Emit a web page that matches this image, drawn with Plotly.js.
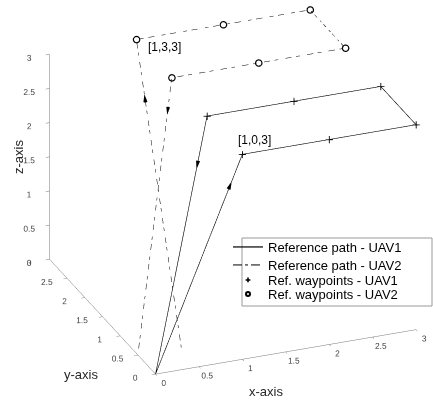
<!DOCTYPE html>
<html>
<head>
<meta charset="utf-8">
<script src="https://cdn.plot.ly/plotly-3.0.1.min.js"></script>
<style>html,body{margin:0;padding:0;background:#fff;}#plot{width:433px;height:403px;}</style>
</head>
<body>
<div id="plot"></div>
<script>
// ---- data ----
const uav1PathX = [0, 1, 2, 3, 3, 2, 1, 0];
const uav1PathY = [0, 0, 0, 0, 1, 1, 1, 0];
const uav1PathZ = [0, 3, 3, 3, 3, 3, 3, 0];
const uav2PathX = [0.5, 1, 2, 3, 3, 2, 1, 0];
const uav2PathY = [0.5, 3, 3, 3, 2, 2, 2, 0.5];
const uav2PathZ = [0, 3, 3, 3, 3, 3, 3, 0];
const uav1WpX = [1, 2, 3, 3, 2, 1];
const uav1WpY = [0, 0, 0, 1, 1, 1];
const uav1WpZ = [3, 3, 3, 3, 3, 3];
const uav2WpX = [1, 2, 3, 3, 2, 1];
const uav2WpY = [3, 3, 3, 2, 2, 2];
const uav2WpZ = [3, 3, 3, 3, 3, 3];
const tickVals = [0, 0.5, 1, 1.5, 2, 2.5, 3];
const tickText = ['0', '0.5', '1', '1.5', '2', '2.5', '3'];
const seriesNames = ['Reference path - UAV1', 'Reference path - UAV2', 'Ref. waypoints - UAV1', 'Ref. waypoints - UAV2'];
// arrows: fraction along the first (climb) and last (descent) leg of each path
const arrowFracUp = [0.86, 0.81];
const arrowFracDown = [0.19, 0.12];

function arrowCone(px, py, pz, fUp, fDown) {
  const n = px.length;
  const legs = [[0, 1, fUp], [n - 2, n - 1, fDown]];
  const c = {x: [], y: [], z: [], u: [], v: [], w: []};
  legs.forEach(([a, b, f]) => {
    c.x.push(px[a] + f * (px[b] - px[a]));
    c.y.push(py[a] + f * (py[b] - py[a]));
    c.z.push(pz[a] + f * (pz[b] - pz[a]));
    const dx = px[b] - px[a], dy = py[b] - py[a], dz = pz[b] - pz[a];
    const L = Math.sqrt(dx * dx + dy * dy + dz * dz);
    c.u.push(dx / L); c.v.push(dy / L); c.w.push(dz / L);
  });
  return c;
}

const FONT = 'Liberation Sans, Arial, sans-serif';
const traces = [];
traces.push({type: 'scatter3d', mode: 'lines', name: seriesNames[0], x: uav1PathX, y: uav1PathY, z: uav1PathZ,
  line: {color: '#000', width: 1.2}, legend: 'legend', hoverinfo: 'skip'});
traces.push({type: 'scatter3d', mode: 'lines', name: seriesNames[1], x: uav2PathX, y: uav2PathY, z: uav2PathZ,
  line: {color: '#000', width: 1, dash: 'dashdot'}, legend: 'legend2', hoverinfo: 'skip'});
traces.push({type: 'scatter3d', mode: 'markers', name: seriesNames[2], x: uav1WpX, y: uav1WpY, z: uav1WpZ,
  marker: {color: '#000', size: 4, symbol: 'cross'}, legend: 'legend3', hoverinfo: 'skip'});
traces.push({type: 'scatter3d', mode: 'markers', name: seriesNames[3], x: uav2WpX, y: uav2WpY, z: uav2WpZ,
  marker: {color: '#000', size: 4, symbol: 'circle-open', line: {width: 2, color: '#000'}}, legend: 'legend4', hoverinfo: 'skip'});
const cones = [
  arrowCone(uav1PathX, uav1PathY, uav1PathZ, arrowFracUp[0], arrowFracDown[0]),
  arrowCone(uav2PathX, uav2PathY, uav2PathZ, arrowFracUp[1], arrowFracDown[1])
].map(c =>
  Object.assign({type: 'cone', anchor: 'center', sizemode: 'absolute', sizeref: 0.13,
    colorscale: [[0, 'rgb(0,0,0)'], [1, 'rgb(0,0,0)']], showscale: false, showlegend: false, hoverinfo: 'skip',
    lighting: {ambient: 1, diffuse: 0, specular: 0}}, c));

const axisBase = {
  range: [0, 3], tickvals: tickVals, ticktext: tickText, showgrid: false, zeroline: false,
  showbackground: false, showline: true, linecolor: '#777', linewidth: 1, ticks: 'outside',
  ticklen: 4, tickcolor: '#777', tickfont: {family: FONT, size: 10, color: '#444'}, tickangle: 0,
  title: {text: ''}, showspikes: false, autorange: false
};
const ex = -0.333, ey = -0.839, ez = 0.430, R = 4;
const Z = 1.391;
const cen = {x: -0.087, y: 0, z: -0.037};

function leg(yc) {
  return {x: 228 / 433, y: 1 - yc / 403, xanchor: 'left', yanchor: 'middle', bgcolor: 'rgba(0,0,0,0)',
    borderwidth: 0, font: {family: FONT, size: 13, color: '#000'}, itemwidth: 30};
}
function axTitle(xp, yp, txt, ang) {
  return {xref: 'paper', yref: 'paper', x: xp / 433, y: 1 - yp / 403, xanchor: 'center', yanchor: 'middle',
    text: txt, showarrow: false, textangle: ang, font: {family: FONT, size: 13, color: '#262626'}};
}

const layout = {
  width: 433, height: 403, margin: {l: 0, r: 0, t: 0, b: 0}, paper_bgcolor: '#fff',
  font: {family: FONT},
  scene: {
    domain: {x: [0, 1], y: [0, 1]},
    aspectmode: 'manual', aspectratio: {x: 1 * Z, y: 1.025 * Z, z: 0.81 * Z},
    camera: {eye: {x: cen.x + ex * R, y: cen.y + ey * R, z: cen.z + ez * R}, up: {x: 0, y: 0, z: 1},
      center: cen, projection: {type: 'orthographic'}},
    xaxis: Object.assign({}, axisBase),
    yaxis: Object.assign({}, axisBase),
    zaxis: Object.assign({}, axisBase),
    annotations: [
      {x: 1, y: 3, z: 3, text: '[1,3,3]', showarrow: false, xanchor: 'left', xshift: 10, yshift: -8,
        font: {family: FONT, size: 12, color: '#000'}},
      {x: 1, y: 0, z: 3, text: '[1,0,3]', showarrow: false, xanchor: 'left', xshift: -6, yshift: 14,
        font: {family: FONT, size: 12, color: '#000'}}
    ]
  },
  showlegend: true,
  legend: leg(247), legend2: leg(265), legend3: leg(280), legend4: leg(294),
  shapes: [{type: 'rect', xref: 'paper', yref: 'paper', x0: 242 / 433, x1: 432 / 433, y0: 1 - 238 / 403, y1: 1 - 306 / 403,
    line: {color: '#999', width: 1}, fillcolor: 'rgba(0,0,0,0)'}],
  annotations: [
    axTitle(266, 391, 'x-axis', 0),
    axTitle(81, 374, 'y-axis', 0),
    axTitle(18, 157, 'z-axis', -90)
  ]
};

Plotly.newPlot('plot', traces, layout, {displayModeBar: false}).then(gd => {
  return Plotly.addTraces(gd, cones).catch(() => {});
});
</script>
</body>
</html>
